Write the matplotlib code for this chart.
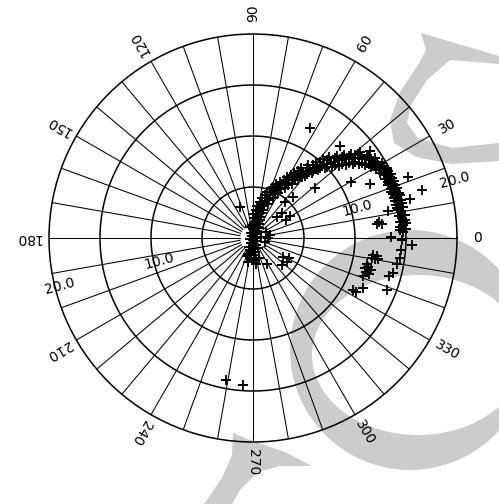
import numpy as np
import matplotlib
matplotlib.use('Agg')
import matplotlib.pyplot as plt
from matplotlib.patches import Circle, Ellipse, Polygon

# 风矢量分量 (u 向东, v 向北), 主弧线部分
band_u = [-0.3, 0.1, -0.6, -0.3, 0.2, -0.2, 0.3, -0.1, 0.4,
          0.0, 0.4, -0.3, 0.2, 0.6, 0.4, 0.0, 0.8, 0.7, 1.0, 0.4,
          1.2, 1.5, 0.9, 1.7, 2.0, 1.4, 2.2, 2.5, 2.0, 2.8, 3.1, 2.6,
          3.5, 3.8, 3.3, 4.2, 4.4, 4.0, 4.9, 5.1, 4.7, 5.6, 5.8, 5.4,
          6.3, 6.4, 6.2, 7.0, 7.1, 6.9, 7.6, 7.7, 7.5, 8.3, 8.4, 8.2,
          9.0, 9.1, 8.9, 9.7, 9.8, 9.6, 10.4, 10.4, 10.3, 11.1, 11.0, 11.2,
          11.8, 11.6, 12.0, 12.3, 12.1, 12.6, 12.8, 12.5, 13.1, 13.2, 12.9, 13.5,
          13.5, 13.2, 13.8, 13.8, 13.5, 14.1, 14.1, 13.8, 14.4, 14.3, 14.0, 14.6,
          14.5, 14.2, 14.6, 14.9, 14.7, 14.4, 14.7, 14.6, 14.5, 14.4]
band_v = [-2.0, -2.2, -1.8, -1.2, -1.4, -0.5, -0.7, 0.2, 0.0,
          0.9, 0.7, 1.1, 1.6, 1.4, 2.2, 2.4, 2.1, 2.9, 2.7, 3.1,
          3.6, 3.3, 3.9, 4.2, 3.9, 4.5, 4.7, 4.4, 5.0, 5.2, 4.9, 5.5,
          5.7, 5.3, 6.0, 6.1, 5.7, 6.4, 6.5, 6.1, 6.9, 6.8, 6.4, 7.2,
          7.1, 6.7, 7.5, 7.3, 6.9, 7.7, 7.4, 7.0, 7.9, 7.6, 7.1, 8.0,
          7.7, 7.2, 8.1, 7.8, 7.3, 8.2, 7.8, 7.3, 8.2, 7.7, 7.2, 8.1,
          7.5, 7.0, 7.8, 7.2, 6.8, 7.4, 6.7, 6.4, 6.9, 6.1, 5.8, 6.3,
          5.4, 5.2, 5.6, 4.7, 4.5, 4.9, 4.0, 3.9, 4.2, 3.3, 3.2, 3.4,
          2.6, 2.7, 2.0, 1.8, 1.3, 1.1, 0.6, -0.2, -1.2, -2.0]

# 主弧线上的加密点
mid_u = [-0.2, -0.1, 0.0, 0.1, 0.2, 0.4, 0.6, 0.9, 1.4, 2.0, 2.5, 3.2,
         3.9, 4.6, 5.3, 5.9, 6.6, 7.3, 8.0, 8.7, 9.4, 10.0, 10.7, 11.4,
         12.0, 12.6, 13.0, 13.4, 13.7, 14.0, 14.2, 14.4, 14.6, 14.7, 14.7,
         0.5, 0.6, 0.3, -0.5, 0.8, 0.6]
mid_v = [-1.6, -0.9, -0.2, 0.5, 1.2, 1.9, 2.6, 3.3, 3.9, 4.5, 5.0, 5.4,
         5.9, 6.3, 6.6, 6.9, 7.2, 7.3, 7.5, 7.6, 7.7, 7.8, 7.7, 7.6,
         7.3, 6.9, 6.4, 5.7, 5.0, 4.4, 3.7, 3.0, 2.3, 1.6, 0.9,
         -1.0, -2.0, -2.5, -2.4, 0.1, 1.0]

fill_u = [-0.5, 0.1, -0.4, 0.2, -0.3, 0.3, -0.2, 0.4, -0.1, 0.5,
          0.1, 0.7, 0.3, 0.9, 0.7, 1.1, 1.2, 1.6, 1.8, 2.2,
          2.3, 2.7, 3.0, 3.4, 3.7, 4.1, 4.4, 4.8, 5.3, 5.3,
          5.9, 5.9, 6.6, 6.6, 7.3, 7.3, 8.0, 8.0, 8.7, 8.7,
          9.4, 9.4, 10.0, 10.0, 10.7, 10.7, 11.4, 11.4, 12.2, 11.8,
          12.8, 12.4, 13.2, 12.8, 13.6, 13.2, 13.9, 13.5, 14.3, 13.7,
          14.5, 13.9, 14.7, 14.1, 14.9, 14.3, 15.0, 14.4, 15.0, 14.4]
fill_v = [-1.6, -1.7, -0.9, -1.0, -0.1, -0.3, 0.5, 0.4, 1.3, 1.1,
          2.0, 1.8, 2.7, 2.5, 3.5, 3.1, 4.2, 3.7, 4.8, 4.3,
          5.3, 4.8, 5.7, 5.2, 6.2, 5.7, 6.6, 6.0, 6.9, 6.3,
          7.2, 6.6, 7.5, 6.9, 7.6, 7.0, 7.8, 7.2, 7.9, 7.3,
          8.0, 7.4, 8.1, 7.5, 8.0, 7.4, 7.9, 7.3, 7.5, 7.1,
          7.1, 6.7, 6.6, 6.2, 5.9, 5.5, 5.2, 4.8, 4.4, 4.3,
          3.7, 3.6, 3.0, 2.9, 2.3, 2.2, 1.5, 1.6, 0.9, 0.8]

# 离散点
scat_u = [5.6, 8.5, 10.5, 11.5, 15.2, 16.6, 15.4, 13.2, 12.4, 12.6, 12.2,
          13.5, 15.6, 14.1, 13.7, 13.3, 13.1, 10.8, 9.8, 10.1, 9.6, 11.5,
          6.1, 3.9, 3.1, -1.3, 2.8, 3.6, 3.2, 2.4, 1.3, 1.5, 1.2, 1.7,
          2.9, 3.3, 2.8, 3.5, 1.4, -2.6, -1.0,
          11.8, 12.2, 12.0, 11.7, 12.3,
          11.0, 11.3, 11.1, 11.4, 10.8, 11.6, 11.2]
scat_v = [10.8, 9.0, 8.4, 8.5, 6.0, 4.7, 3.8, 2.6, 1.6, 1.4, 1.4,
          0.1, -0.7, -2.5, -3.4, -3.7, -5.1, -4.9, -5.1, -5.3, 5.5, 5.3,
          4.9, 4.0, 3.5, 3.0, 2.5, 2.2, 1.8, 2.1, 0.6, 0.0, -0.4, 0.3,
          -1.9, -2.4, -2.6, -2.0, -2.5, -13.9, -14.4,
          -1.7, -1.8, -2.1, -2.0, -2.1,
          -2.9, -2.8, -3.3, -3.5, -3.7, -3.1, -2.5]

ring_vals = [5, 10, 15, 20]
ring_labels = ['10.0', '20.0']
label_rings = [10, 20]
angle_ticks = [0, 30, 60, 90, 120, 150, 180, 210, 240, 270, 300, 330]

fig = plt.figure(figsize=(4.99, 5.04), dpi=100)

# 背景水印
bg = fig.add_axes([0, 0, 1, 1], zorder=0)
bg.set_xlim(0, 499)
bg.set_ylim(504, 0)
bg.axis('off')
gray = '#cccccc'
bg.add_patch(Circle((410, 350), 120, color=gray, lw=0))
bg.add_patch(Ellipse((418, 355), 212, 160, color='white', lw=0))
crescent = [(421, 33), (499, 56), (499, 64), (450, 60), (427, 80), (411, 105),
            (407, 123), (418, 138), (452, 148), (499, 143), (499, 161),
            (452, 164), (416, 157), (394, 143), (390, 120), (400, 92),
            (418, 65), (426, 50)]
tail = [(233, 433), (250, 440), (285, 452), (312, 466), (280, 466),
        (258, 472), (240, 490), (232, 504), (204, 504), (222, 478), (232, 455)]
bg.add_patch(Polygon(crescent, closed=True, color=gray, lw=0))
bg.add_patch(Polygon(tail, closed=True, color=gray, lw=0))

# 极坐标图
ax = fig.add_axes([0.0982, 0.1230, 0.8176, 0.8095], projection='polar', zorder=1)
ax.patch.set_visible(False)
ax.set_ylim(0, 20)
ax.set_xticks([])
ax.set_yticks([])
ax.grid(False)
ax.spines['polar'].set_linewidth(1.1)

th = np.linspace(0, 2 * np.pi, 721)
for r in ring_vals[:-1]:
    ax.plot(th, np.full_like(th, r), color='k', lw=1.1)
for d in range(0, 360, 10):
    ax.plot([np.radians(d)] * 2, [1.3, 20], color='k', lw=0.75)

u = np.array(band_u + mid_u + fill_u + scat_u)
v = np.array(band_v + mid_v + fill_v + scat_v)
ax.plot(np.arctan2(v, u), np.hypot(u, v), '+', color='k', ms=7.5, mew=1.3)

for d in angle_ticks:
    ax.text(np.radians(d), 22, str(d), rotation=d, rotation_mode='anchor',
            ha='center', va='center', fontsize=10, clip_on=False)
for rr, lab in zip(label_rings, ring_labels):
    ax.text(np.radians(16), rr + 0.6, lab, rotation=15, rotation_mode='anchor',
            ha='center', va='center', fontsize=10)
    ax.text(np.radians(194), rr - 0.5, lab, rotation=15, rotation_mode='anchor',
            ha='center', va='center', fontsize=10)

fig.savefig('out.png', dpi=100)
